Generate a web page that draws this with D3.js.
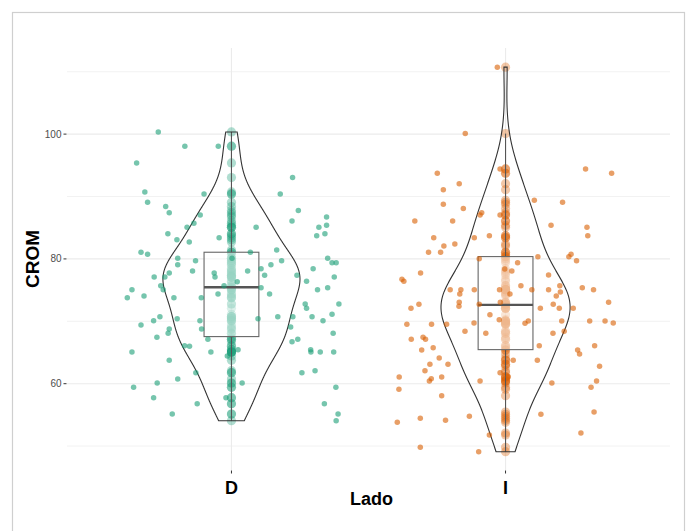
<!DOCTYPE html>
<html><head><meta charset="utf-8">
<script src="https://cdn.jsdelivr.net/npm/d3@7/dist/d3.min.js"></script>
<style>body{margin:0;background:#fff}</style>
</head><body><svg id="chart" width="687" height="531"></svg>
<script>
// ---------- data ----------
const categories = ["D", "I"];
const groupColors = ["#1b9e77", "#d95f02"];

const valuesD = [100.35,98.06,98.06,95.38,93.03,90.73,89.08,90.41,90.41,88.38,87.41,87.74,87.05,86.73,86.08,85.72,85.07,85.07,85.07,85.39,
84.05,83.73,84.05,83.09,83.41,82.72,81.07,80.75,81.43,81.07,80.10,79.40,79.40,80.10,79.72,79.72,80.10,79.08,79.08,78.44,
78.44,77.75,78.07,77.75,78.07,77.38,77.38,77.11,77.11,77.11,77.11,76.42,75.07,73.79,74.06,75.71,75.07,73.79,73.79,74.38,
75.71,76.35,75.39,74.38,75.07,75.39,72.78,72.78,72.09,70.74,70.10,69.41,70.42,70.10,70.42,70.74,70.74,70.74,71.13,70.10,
68.77,68.08,68.77,69.09,68.08,67.44,67.12,67.12,66.73,66.09,66.00,65.08,65.08,65.45,65.45,65.08,65.08,65.08,63.75,61.76,
61.76,62.08,60.75,60.11,60.11,59.42,59.42,57.76,57.76,56.79,56.79,55.14,55.14,54.07,64.44];
const jitterD = [-0.267,-0.170,-0.048,-0.346,0.223,-0.316,-0.306,-0.100,0.178,-0.240,-0.227,0.244,-0.114,0.347,0.221,-0.137,-0.162,0.090,0.319,0.347,
0.341,0.311,-0.232,-0.199,-0.045,-0.154,-0.330,-0.306,0.165,0.069,0.351,0.367,0.382,-0.196,-0.131,0.183,0.002,-0.196,0.144,0.108,
0.298,-0.227,-0.142,-0.063,0.059,0.121,0.239,0.375,-0.282,-0.243,-0.060,0.274,-0.363,-0.380,-0.319,-0.258,-0.249,-0.210,-0.110,-0.049,
-0.027,0.021,0.108,0.139,0.314,0.351,0.392,0.269,0.274,-0.261,-0.284,-0.330,-0.198,-0.115,0.097,0.169,0.224,0.294,0.367,0.334,
-0.227,-0.231,-0.109,0.216,0.371,-0.272,-0.086,0.242,0.221,-0.171,-0.153,-0.363,-0.075,0.024,0.289,0.290,0.324,0.373,-0.227,-0.130,
0.257,0.305,-0.196,-0.271,0.039,-0.357,0.381,-0.284,-0.020,-0.125,0.339,-0.216,0.389,0.382,-0.015];

const valuesI = [110.73,100.08,94.42,93.73,93.73,92.06,91.10,94.42,88.76,88.06,89.40,89.08,87.41,87.05,87.05,86.08,86.08,85.39,85.07,83.73,
83.73,83.41,83.41,82.40,82.08,81.07,81.07,80.75,80.36,79.72,80.36,80.04,79.40,78.39,78.07,77.75,76.74,76.42,77.43,75.71,
75.39,75.07,75.71,75.07,75.07,75.07,75.07,75.07,75.07,74.38,74.38,74.70,74.06,73.05,72.41,72.73,73.05,72.73,73.05,72.73,
72.09,72.09,72.09,72.09,71.06,70.26,70.05,69.68,70.05,70.05,70.05,69.73,69.73,69.52,69.52,69.52,68.40,68.08,68.08,68.40,
67.12,67.44,67.12,66.09,66.09,65.77,65.40,65.40,64.76,64.12,63.75,63.75,63.11,63.11,62.79,62.08,61.76,61.12,61.07,60.80,
60.43,61.07,60.43,60.11,60.43,59.42,59.10,58.08,53.81,54.45,54.13,54.77,55.09,55.46,51.78,52.10,49.80,49.10];
const jitterI = [-0.030,-0.147,0.292,0.387,-0.249,-0.169,-0.227,-0.020,-0.227,-0.154,0.105,0.208,-0.087,-0.093,-0.020,-0.331,-0.193,0.166,0.297,0.300,
-0.059,-0.114,-0.262,-0.185,-0.225,-0.281,-0.237,0.239,0.231,0.259,0.118,-0.096,0.044,-0.003,0.023,-0.310,-0.378,-0.371,0.157,0.198,
0.280,0.321,0.056,-0.202,-0.163,-0.114,-0.022,0.096,0.157,-0.167,0.016,0.200,0.185,-0.169,-0.170,-0.096,-0.019,0.174,0.376,-0.316,
-0.345,0.127,0.196,0.247,-0.057,-0.023,0.083,0.071,0.205,0.307,0.363,0.393,-0.115,-0.360,-0.270,-0.215,-0.148,-0.072,0.173,0.214,
-0.344,-0.301,-0.292,0.123,0.325,-0.264,-0.306,0.263,0.270,-0.242,0.028,0.116,-0.276,-0.210,0.343,-0.294,-0.020,0.010,-0.388,-0.271,
-0.278,-0.233,-0.093,0.169,0.332,0.312,-0.389,-0.233,-0.395,-0.311,-0.219,-0.132,0.129,0.323,-0.059,0.275,-0.311,-0.098];

const boxQ1 = [67.55, 65.46];
const boxMedian = [75.46, 72.63];
const boxQ3 = [81.07, 80.37];

const yMajorTicks = [60, 80, 100];
const yMinorTicks = [50, 70, 90, 110];
const xTitle = "Lado", yTitle = "CROM";

// ---------- layout ----------
const W = 687, H = 531;
const P = {left: 67, right: 670, top: 48, bottom: 470};
const svg = d3.select("#chart");

svg.append("rect").attr("x", 12.5).attr("y", 12.5).attr("width", 672).attr("height", 600)
  .attr("fill", "#fff").attr("stroke", "#cfcfcf").attr("stroke-width", 1.2);

const x = d3.scalePoint().domain(categories).range([P.left, P.right]).padding(0.6);
const step = x.step();
const y = d3.scaleLinear().domain([46.17, 113.8]).range([P.bottom, P.top]);

// gridlines
const grid = svg.append("g");
grid.selectAll(".minor").data(yMinorTicks).join("line")
  .attr("x1", P.left).attr("x2", P.right).attr("y1", d => y(d)).attr("y2", d => y(d))
  .attr("stroke", "#f0f0f0").attr("stroke-width", 0.9);
grid.selectAll(".major").data(yMajorTicks).join("line")
  .attr("x1", P.left).attr("x2", P.right).attr("y1", d => y(d)).attr("y2", d => y(d))
  .attr("stroke", "#ebebeb").attr("stroke-width", 1.1);
grid.selectAll(".vx").data(categories).join("line")
  .attr("x1", d => x(d)).attr("x2", d => x(d)).attr("y1", P.top).attr("y2", P.bottom)
  .attr("stroke", "#ebebeb").attr("stroke-width", 1.1);

const groups = [
  {cat: "D", values: valuesD, jitter: jitterD, color: groupColors[0], q1: boxQ1[0], med: boxMedian[0], q3: boxQ3[0]},
  {cat: "I", values: valuesI, jitter: jitterI, color: groupColors[1], q1: boxQ1[1], med: boxMedian[1], q3: boxQ3[1]}
];

// density
function kde(vals) {
  const n = vals.length;
  const sd = d3.deviation(vals);
  const iqr = d3.quantile(vals.slice().sort(d3.ascending), 0.75) - d3.quantile(vals.slice().sort(d3.ascending), 0.25);
  const bw = 0.9 * Math.min(sd, iqr / 1.34) * Math.pow(n, -0.2);
  const lo = d3.min(vals), hi = d3.max(vals);
  const pts = [];
  for (let i = 0; i < 512; i++) {
    const t = lo + (hi - lo) * i / 511;
    let s = 0;
    for (const v of vals) { const u = (t - v) / bw; s += Math.exp(-0.5 * u * u); }
    pts.push([t, s / (n * bw * Math.sqrt(2 * Math.PI))]);
  }
  return pts;
}
groups.forEach(g => g.dens = kde(g.values));
const maxD = d3.max(groups, g => d3.max(g.dens, d => d[1]));
const halfW = 0.25 * step;

groups.forEach(g => {
  const cx = x(g.cat);
  // central stripe of points
  svg.append("g").selectAll("circle").data(g.values).join("circle")
    .attr("cx", cx).attr("cy", d => y(d)).attr("r", 4.6)
    .attr("fill", g.color).attr("fill-opacity", 0.35);
  // whiskers
  const iqr = g.q3 - g.q1;
  const upper = d3.max(g.values.filter(v => v <= g.q3 + 1.5 * iqr));
  const lower = d3.min(g.values.filter(v => v >= g.q1 - 1.5 * iqr));
  svg.append("line").attr("x1", cx).attr("x2", cx).attr("y1", y(g.q3)).attr("y2", y(upper))
    .attr("stroke", "#555").attr("stroke-width", 1.1);
  svg.append("line").attr("x1", cx).attr("x2", cx).attr("y1", y(g.q1)).attr("y2", y(lower))
    .attr("stroke", "#555").attr("stroke-width", 1.1);
  // box
  const bw = 0.2 * step;
  svg.append("rect").attr("x", cx - bw / 2).attr("width", bw)
    .attr("y", y(g.q3)).attr("height", y(g.q1) - y(g.q3))
    .attr("fill", "#fff").attr("fill-opacity", 0.55).attr("stroke", "#666").attr("stroke-width", 1.1);
  svg.append("line").attr("x1", cx - bw / 2).attr("x2", cx + bw / 2)
    .attr("y1", y(g.med)).attr("y2", y(g.med)).attr("stroke", "#555").attr("stroke-width", 2.4);
  // violin
  const area = d3.area()
    .y(d => y(d[0]))
    .x0(d => cx - d[1] / maxD * halfW)
    .x1(d => cx + d[1] / maxD * halfW)
    .curve(d3.curveLinear);
  const pts = g.dens;
  const outline = pts.map(d => [cx + d[1] / maxD * halfW, y(d[0])])
    .concat(pts.slice().reverse().map(d => [cx - d[1] / maxD * halfW, y(d[0])]));
  svg.append("path").attr("d", d3.line()(outline) + "Z")
    .attr("fill", "none").attr("stroke", "#333").attr("stroke-width", 1.1);
  // jittered points
  svg.append("g").selectAll("circle").data(g.values).join("circle")
    .attr("cx", (d, i) => cx + g.jitter[i] * step).attr("cy", d => y(d)).attr("r", 2.75)
    .attr("fill", g.color).attr("fill-opacity", 0.6);
});

// axes
const ya = svg.append("g");
ya.selectAll("line").data(yMajorTicks).join("line")
  .attr("x1", P.left - 3.5).attr("x2", P.left - 0.5).attr("y1", d => y(d)).attr("y2", d => y(d))
  .attr("stroke", "#333").attr("stroke-width", 1);
ya.selectAll("text").data(yMajorTicks).join("text")
  .attr("x", P.left - 5.5).attr("y", d => y(d)).attr("dy", "0.35em").attr("text-anchor", "end")
  .attr("font-family", "Liberation Sans, Arial, sans-serif").attr("font-size", 10).attr("fill", "#4d4d4d")
  .text(d => d);

const xa = svg.append("g");
xa.selectAll("line").data(categories).join("line")
  .attr("x1", d => x(d)).attr("x2", d => x(d)).attr("y1", P.bottom + 0.5).attr("y2", P.bottom + 3.5)
  .attr("stroke", "#333").attr("stroke-width", 1);
xa.selectAll("text").data(categories).join("text")
  .attr("x", d => x(d)).attr("y", 494).attr("text-anchor", "middle")
  .attr("font-family", "Liberation Sans, Arial, sans-serif").attr("font-weight", "bold").attr("font-size", 18)
  .attr("fill", "#000").text(d => d);

svg.append("text").attr("x", (P.left + P.right) / 2 + 3).attr("y", 505).attr("text-anchor", "middle")
  .attr("font-family", "Liberation Sans, Arial, sans-serif").attr("font-weight", "bold").attr("font-size", 18)
  .text(xTitle);
svg.append("text").attr("transform", `translate(39,${(P.top + P.bottom) / 2}) rotate(-90)`).attr("text-anchor", "middle")
  .attr("font-family", "Liberation Sans, Arial, sans-serif").attr("font-weight", "bold").attr("font-size", 19)
  .text(yTitle);
</script></body></html>
